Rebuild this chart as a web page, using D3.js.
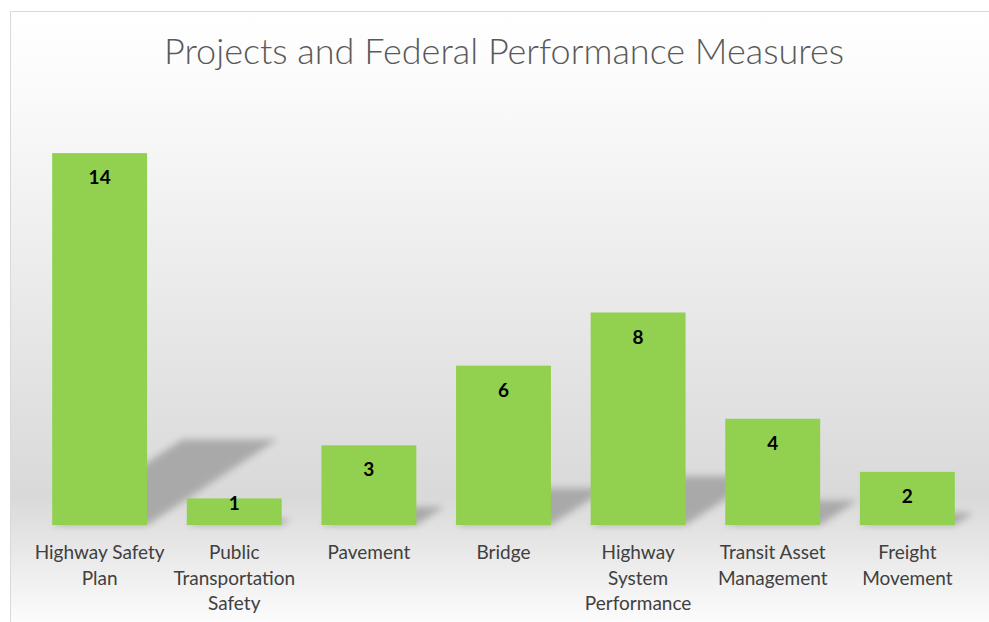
<!DOCTYPE html>
<html>
<head>
<meta charset="utf-8">
<script src="https://cdn.jsdelivr.net/npm/d3@7"></script>
<style>
  html, body { margin: 0; padding: 0; background: #ffffff; }
  svg { display: block; }
</style>
</head>
<body>
<svg id="chart" width="989" height="622"></svg>
<script>
const title = "Projects and Federal Performance Measures";
const categories = [
  ["Highway Safety", "Plan"],
  ["Public", "Transportation", "Safety"],
  ["Pavement"],
  ["Bridge"],
  ["Highway", "System", "Performance"],
  ["Transit Asset", "Management"],
  ["Freight", "Movement"]
];
const values = [14, 1, 3, 6, 8, 4, 2];
const yMax = 16;

const W = 989, H = 622;
const svg = d3.select("#chart");
const defs = svg.append("defs");

const bg = defs.append("linearGradient").attr("id", "bg").attr("x1", 0).attr("y1", 0).attr("x2", 0).attr("y2", 1);
bg.append("stop").attr("offset", "0%").attr("stop-color", "#ffffff");
bg.append("stop").attr("offset", "12%").attr("stop-color", "#fbfbfb");
bg.append("stop").attr("offset", "78%").attr("stop-color", "#d9d9d9");
bg.append("stop").attr("offset", "100%").attr("stop-color", "#ffffff");

const blur = defs.append("filter").attr("id", "blur").attr("x", "-20%").attr("y", "-20%").attr("width", "140%").attr("height", "140%");
blur.append("feGaussianBlur").attr("stdDeviation", 3.5);

svg.append("rect").attr("x", 10.5).attr("y", 11.5).attr("width", W).attr("height", H)
  .attr("fill", "url(#bg)").attr("stroke", "#d9d9d9").attr("stroke-width", 1);

const x = d3.scaleBand().domain(d3.range(values.length)).range([32, 975]).paddingInner(0.295).paddingOuter(0.15);
const y = d3.scaleLinear().domain([0, yMax]).range([525, 100]);

svg.append("text").attr("x", 504).attr("y", 64).attr("text-anchor", "middle")
  .attr("font-family", "Lato, 'Open Sans', sans-serif").attr("font-weight", 300)
  .attr("font-size", 36).attr("fill", "#595959").text(title);

const shadowG = svg.append("g").attr("filter", "url(#blur)").attr("opacity", 0.9);
values.forEach((v, i) => {
  const x0 = x(i), x1 = x(i) + x.bandwidth();
  const b = y(0), h = y(0) - y(v);
  const dx = h * 0.35, dy = h * 0.23;
  shadowG.append("polygon")
    .attr("points", [[x0, b], [x1, b], [x1 + dx, b - dy], [x0 + dx, b - dy]].map(p => p.join(",")).join(" "))
    .attr("fill", "#a4a4a4");
});

svg.append("g").selectAll("rect").data(values).join("rect")
  .attr("x", (d, i) => x(i)).attr("y", d => y(d))
  .attr("width", x.bandwidth()).attr("height", d => y(0) - y(d))
  .attr("fill", "#92d050");

svg.append("g").selectAll("text").data(values).join("text")
  .attr("x", (d, i) => x(i) + x.bandwidth() / 2).attr("y", d => Math.min(y(d) + 31, y(0) - 15))
  .attr("text-anchor", "middle").attr("font-family", "Lato, 'Open Sans', sans-serif")
  .attr("font-weight", 700).attr("font-size", 19).attr("fill", "#000000")
  .text(d => d);

const lab = svg.append("g").selectAll("text").data(categories).join("text")
  .attr("text-anchor", "middle").attr("font-family", "Lato, 'Open Sans', sans-serif")
  .attr("font-size", 19).attr("fill", "#404040");
lab.each(function(lines, i) {
  const t = d3.select(this);
  lines.forEach((ln, j) => {
    t.append("tspan").attr("x", x(i) + x.bandwidth() / 2).attr("y", 559 + j * 25.5).text(ln);
  });
});
</script>
</body>
</html>
